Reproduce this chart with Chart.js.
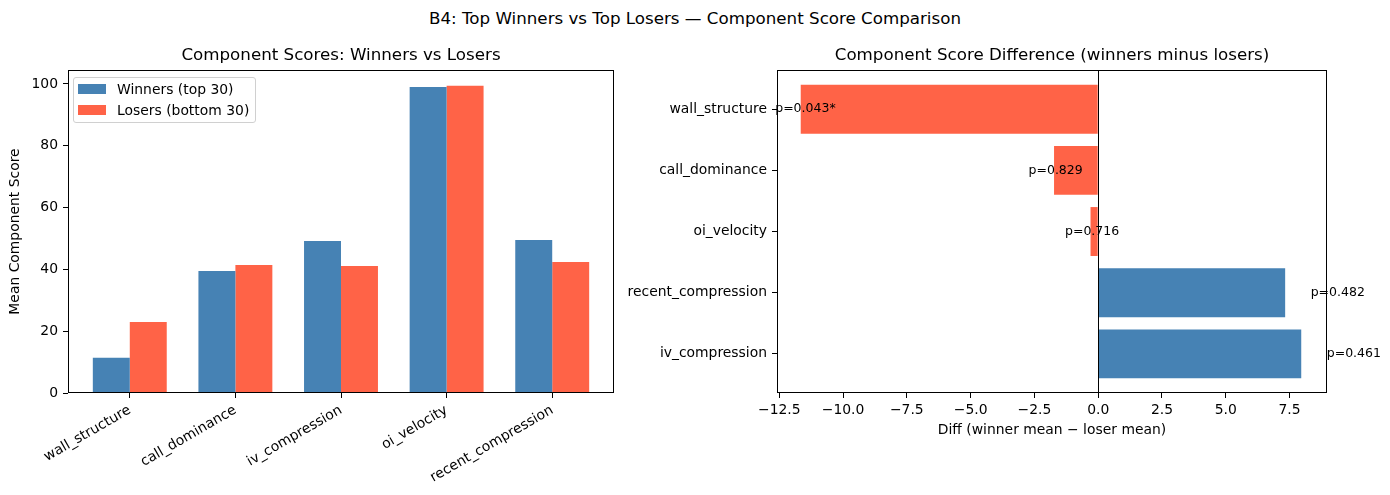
<!DOCTYPE html>
<html>
<head>
<meta charset="utf-8">
<script src="https://cdn.jsdelivr.net/npm/chart.js@4.4.1/dist/chart.umd.min.js"></script>
<style>
html, body { margin:0; padding:0; background:#fff; }
body { width:1390px; height:495px; position:relative; overflow:hidden; font-family:"DejaVu Sans", sans-serif; color:#000; }
#suptitle { position:absolute; left:0; top:8px; width:1390px; text-align:center; font-size:16.7px; line-height:20px; }
#leftBox { position:absolute; left:0; top:40px; width:620px; height:455px; }
#rightBox { position:absolute; left:620px; top:40px; width:770px; height:455px; }
#legend { position:absolute; left:73px; top:77px; border:1px solid #d0d0d0; border-radius:3px; background:rgba(255,255,255,0.8);
  padding:1px 6px 2px 4px; font-size:13.9px; }
#legend .row { display:flex; align-items:center; height:20.7px; white-space:nowrap; }
#legend .sw { width:28px; height:10px; margin-right:11px; }
</style>
</head>
<body>
<div id="suptitle">B4: Top Winners vs Top Losers — Component Score Comparison</div>
<div id="leftBox"><canvas id="left"></canvas></div>
<div id="rightBox"><canvas id="right"></canvas></div>
<div id="legend"></div>
<script>
// data
var categories = ['wall_structure', 'call_dominance', 'iv_compression', 'oi_velocity', 'recent_compression'];
var winners = [11.4, 39.5, 49.2, 99.0, 49.5];
var losers = [23.0, 41.4, 41.1, 99.4, 42.4];
var scoreTicks = [0, 20, 40, 60, 80, 100];

// right panel, bottom to top
var diffCategories = ['iv_compression', 'recent_compression', 'oi_velocity', 'call_dominance', 'wall_structure'];
var diffValues = [7.96, 7.33, -0.30, -1.73, -11.66];
var pLabels = ['p=0.461', 'p=0.482', 'p=0.716', 'p=0.829', 'p=0.043*'];
var diffTicks = [-12.5, -10, -7.5, -5, -2.5, 0, 2.5, 5, 7.5];

var BLUE = '#4682B4';
var RED = '#FF6347';
var FONT = '"DejaVu Sans", sans-serif';

// box round the plot area
var frame = {
    id: 'frame',
    afterDatasetsDraw: function(chart) {
        var a = chart.chartArea, ctx = chart.ctx;
        ctx.save();
        ctx.strokeStyle = '#000';
        ctx.lineWidth = 1;
        ctx.strokeRect(Math.round(a.left) + 0.5, Math.round(a.top) + 0.5,
            Math.round(a.right - a.left) - 1, Math.round(a.bottom - a.top) - 1);
        ctx.restore();
    }
};

var tickGrid = { display: true, offset: false, drawOnChartArea: false, drawTicks: true, tickLength: 5, color: '#000', lineWidth: 1 };
var tickFont = { family: FONT, size: 13.9 };
var titleFont = { family: FONT, size: 16.7, weight: 'normal' };

new Chart(document.getElementById('left'), {
    type: 'bar',
    data: {
        datasets: [
            { label: 'Winners (top 30)', data: winners.map(function(v, i) { return { x: i, y: v }; }),
              backgroundColor: BLUE, categoryPercentage: 0.7, barPercentage: 1 },
            { label: 'Losers (bottom 30)', data: losers.map(function(v, i) { return { x: i, y: v }; }),
              backgroundColor: RED, categoryPercentage: 0.7, barPercentage: 1 }
        ]
    },
    options: {
        responsive: true, maintainAspectRatio: false, animation: false,
        layout: { padding: { left: 0, right: 6, top: 0, bottom: 0 } },
        plugins: {
            legend: { display: false },
            tooltip: { enabled: false },
            title: { display: true, fullSize: false, text: 'Component Scores: Winners vs Losers', color: '#000',
                     font: titleFont, padding: { top: 6, bottom: 4 } }
        },
        scales: {
            x: {
                type: 'linear', min: -0.585, max: 4.585, offset: false,
                afterBuildTicks: function(s) { s.ticks = categories.map(function(c, i) { return { value: i }; }); },
                afterFit: function(s) { s.height = 102; },
                ticks: { autoSkip: false, minRotation: 30, maxRotation: 30, color: '#000', font: tickFont, padding: 4,
                         callback: function(v) { return categories[v]; } },
                grid: tickGrid,
                border: { display: false }
            },
            y: {
                min: 0, max: 104.5, offset: false,
                afterBuildTicks: function(s) { s.ticks = scoreTicks.map(function(v) { return { value: v }; }); },
                afterFit: function(s) { s.width = 68; },
                ticks: { color: '#000', font: tickFont, padding: 5 },
                grid: tickGrid,
                border: { display: false },
                title: { display: true, text: 'Mean Component Score', color: '#000', font: tickFont, padding: { top: 7, bottom: 0 } }
            }
        }
    },
    plugins: [frame]
});

// zero line and p-value texts
var diffExtras = {
    id: 'diffExtras',
    afterDatasetsDraw: function(chart) {
        var ctx = chart.ctx, a = chart.chartArea;
        var xs = chart.scales.x, ys = chart.scales.y;
        var x0 = Math.round(xs.getPixelForValue(0)) + 0.5;
        ctx.save();
        ctx.strokeStyle = '#000';
        ctx.lineWidth = 1;
        ctx.beginPath();
        ctx.moveTo(x0, a.top);
        ctx.lineTo(x0, a.bottom);
        ctx.stroke();
        ctx.fillStyle = '#000';
        ctx.font = '12.5px ' + FONT;
        ctx.textAlign = 'left';
        ctx.textBaseline = 'middle';
        diffValues.forEach(function(v, i) {
            var x = xs.getPixelForValue(v + (v < 0 ? -1 : 1));
            ctx.fillText(pLabels[i], x, ys.getPixelForValue(i));
        });
        ctx.restore();
    }
};

new Chart(document.getElementById('right'), {
    type: 'bar',
    data: {
        datasets: [{
            data: diffValues.map(function(v, i) { return { x: v, y: i }; }),
            backgroundColor: diffValues.map(function(v) { return v < 0 ? RED : BLUE; }),
            categoryPercentage: 1, barPercentage: 0.8
        }]
    },
    options: {
        indexAxis: 'y',
        responsive: true, maintainAspectRatio: false, animation: false,
        layout: { padding: { left: 0, right: 63, top: 0, bottom: 56 } },
        plugins: {
            legend: { display: false },
            tooltip: { enabled: false },
            title: { display: true, fullSize: false, text: 'Component Score Difference (winners minus losers)', color: '#000',
                     font: titleFont, padding: { top: 6, bottom: 4 } }
        },
        scales: {
            x: {
                type: 'linear', min: -12.59, max: 8.97, offset: false,
                afterBuildTicks: function(s) { s.ticks = diffTicks.map(function(v) { return { value: v }; }); },
                afterFit: function(s) { s.height = 46; },
                ticks: { color: '#000', font: tickFont, padding: 4, maxRotation: 0,
                         callback: function(v) { return (v < 0 ? '\u2212' : '') + Math.abs(v).toFixed(1); } },
                grid: tickGrid,
                border: { display: false },
                title: { display: true, text: 'Diff (winner mean \u2212 loser mean)', color: '#000', font: tickFont, padding: { top: 0, bottom: 0 } }
            },
            y: {
                type: 'linear', min: -0.64, max: 4.64, offset: false,
                afterBuildTicks: function(s) { s.ticks = diffCategories.map(function(c, i) { return { value: i }; }); },
                afterFit: function(s) { s.width = 157; },
                ticks: { color: '#000', font: tickFont, padding: 5, callback: function(v) { return diffCategories[v]; } },
                grid: tickGrid,
                border: { display: false }
            }
        }
    },
    plugins: [frame, diffExtras]
});

// legend inside the left plot
var legend = document.getElementById('legend');
[['Winners (top 30)', BLUE], ['Losers (bottom 30)', RED]].forEach(function(item) {
    var row = document.createElement('div');
    row.className = 'row';
    row.innerHTML = '<span class="sw" style="background:' + item[1] + '"></span><span>' + item[0] + '</span>';
    legend.appendChild(row);
});
</script>
</body>
</html>
